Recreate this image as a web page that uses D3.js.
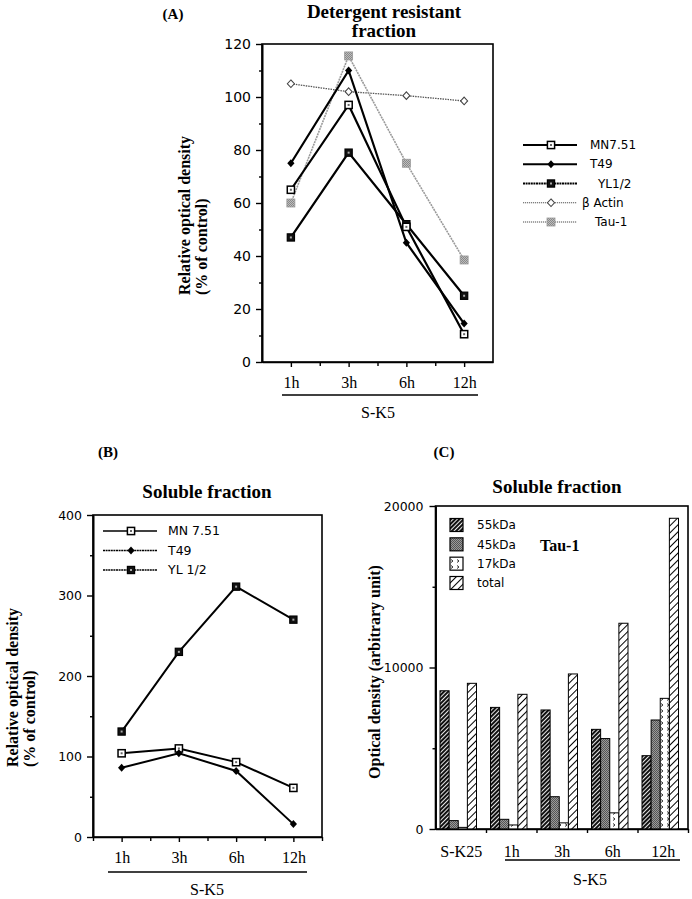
<!DOCTYPE html>
<html><head><meta charset="utf-8">
<script src="https://cdn.jsdelivr.net/npm/d3@7"></script>
<style>body{margin:0;background:#fff} svg{display:block}</style>
</head><body><svg id="c" width="692" height="899"></svg>
<script>
// ---------------- DATA ----------------
const timeCats = ["1h", "3h", "6h", "12h"];
// Panel A : Detergent resistant fraction
const aMN751 = [65, 97, 51, 10.5];
const aT49 = [75, 110, 45, 14.5];
const aYL12 = [47, 79, 52, 25];
const aActin = [105, 102, 100.5, 98.5];
const aTau1 = [60, 115.5, 75, 38.5];
const aTicks = [0, 20, 40, 60, 80, 100, 120];
const aMinorTicks = [10, 30, 50, 70, 90, 110];
const aLegend = ["MN7.51", "T49", "YL1/2", "\u03B2 Actin", "Tau-1"];
// Panel B : Soluble fraction
const bMN751 = [104, 110, 93, 61];
const bT49 = [86, 104, 82, 16];
const bYL12 = [131, 230, 311, 270];
const bTicks = [0, 100, 200, 300, 400];
const bMinorTicks = [50, 150, 250, 350];
const bLegend = ["MN 7.51", "T49", "YL 1/2"];
// Panel C : Soluble fraction, Tau-1
const cGroups = ["S-K25", "1h", "3h", "6h", "12h"];
const cKeys = ["55kDa", "45kDa", "17kDa", "total"];
const c55 = [8560, 7530, 7370, 6170, 4540];
const c45 = [520, 600, 2000, 5600, 6750];
const c17 = [100, 250, 380, 1000, 8090];
const cTotal = [9020, 8340, 9600, 12740, 19240];
const cTicks = [0, 10000, 20000];
const cMinorTicks = [5000, 15000];

// ---------------- SETUP ----------------
const SERIF = "'Liberation Serif', 'Times New Roman', serif";
const SANS = "'DejaVu Sans', Verdana, sans-serif";
const svg = d3.select("#c");
const defs = svg.append("defs");

function hatch(id, size, bg, fg, sw) {
  const p = defs.append("pattern").attr("id", id).attr("width", size).attr("height", size)
    .attr("patternUnits", "userSpaceOnUse").attr("patternTransform", "rotate(45)");
  p.append("rect").attr("width", size).attr("height", size).attr("fill", bg);
  p.append("line").attr("x1", 0.5).attr("y1", 0).attr("x2", 0.5).attr("y2", size)
    .attr("stroke", fg).attr("stroke-width", sw);
}
hatch("p55", 3, "#111", "#fff", 0.9);
hatch("ptot", 5, "#fff", "#000", 1);
{
  const p = defs.append("pattern").attr("id", "p45").attr("width", 2).attr("height", 2)
    .attr("patternUnits", "userSpaceOnUse");
  p.append("rect").attr("width", 2).attr("height", 2).attr("fill", "#9a9a9a");
  p.append("rect").attr("width", 1).attr("height", 1).attr("fill", "#555");
  p.append("rect").attr("x", 1).attr("y", 1).attr("width", 1).attr("height", 1).attr("fill", "#555");
  const q = defs.append("pattern").attr("id", "p17").attr("width", 6).attr("height", 6)
    .attr("patternUnits", "userSpaceOnUse");
  q.append("rect").attr("width", 6).attr("height", 6).attr("fill", "#fff");
  q.append("path").attr("d", "M1,1.5 L3,3 L1,4.5").attr("fill", "none").attr("stroke", "#000").attr("stroke-width", 0.8);
  const g = defs.append("pattern").attr("id", "pgray").attr("width", 2).attr("height", 2)
    .attr("patternUnits", "userSpaceOnUse");
  g.append("rect").attr("width", 2).attr("height", 2).attr("fill", "#bdbdbd");
  g.append("rect").attr("width", 1).attr("height", 1).attr("fill", "#888");
  g.append("rect").attr("x", 1).attr("y", 1).attr("width", 1).attr("height", 1).attr("fill", "#888");
}

function styleAxis(g, size, family) {
  g.select(".domain").attr("stroke", "#000").attr("stroke-width", 1.6);
  g.selectAll(".tick line").attr("stroke", "#000").attr("stroke-width", 1.4);
  g.selectAll("text").attr("font-size", size).attr("font-family", family).attr("fill", "#000");
}

function marker(g, type, x, y) {
  const s = 3.6;
  if (type === "sqOpen") {
    g.append("rect").attr("x", x - s).attr("y", y - s).attr("width", 2 * s).attr("height", 2 * s)
      .attr("fill", "#fff").attr("stroke", "#000").attr("stroke-width", 1.5);
    g.append("rect").attr("x", x - 1).attr("y", y - 1).attr("width", 2).attr("height", 2).attr("fill", "#666");
  } else if (type === "sqFill") {
    g.append("rect").attr("x", x - s).attr("y", y - s).attr("width", 2 * s).attr("height", 2 * s)
      .attr("fill", "#111").attr("stroke", "#000").attr("stroke-width", 1.2);
    g.append("rect").attr("x", x - 1).attr("y", y - 1).attr("width", 2).attr("height", 2).attr("fill", "#aaa");
  } else if (type === "diamond") {
    g.append("path").attr("d", `M${x},${y - 4}L${x + 3.6},${y}L${x},${y + 4}L${x - 3.6},${y}Z`).attr("fill", "#000");
  } else if (type === "diamondOpen") {
    g.append("path").attr("d", `M${x},${y - 3.8}L${x + 3.5},${y}L${x},${y + 3.8}L${x - 3.5},${y}Z`)
      .attr("fill", "#fff").attr("stroke", "#444").attr("stroke-width", 1.1);
  } else if (type === "sqGray") {
    g.append("rect").attr("x", x - 4).attr("y", y - 4).attr("width", 8).attr("height", 8)
      .attr("fill", "url(#pgray)").attr("stroke", "#999").attr("stroke-width", 0.8);
  }
}

function serifText(x, y, txt, size, weight, anchor) {
  return svg.append("text").attr("x", x).attr("y", y).attr("font-family", SERIF)
    .attr("font-size", size).attr("font-weight", weight || "normal")
    .attr("text-anchor", anchor || "middle").attr("fill", "#000").text(txt);
}

// ---------------- PANEL A ----------------
{
  const A = { l: 262, r: 493, t: 44, b: 362 };
  const y = d3.scaleLinear().domain([0, 120]).range([A.b, A.t]);
  const x = d3.scalePoint().domain(timeCats).range([A.l, A.r]).padding(0.5);
  const xb = d3.scaleBand().domain(timeCats).range([A.l, A.r]);

  serifText(173, 19, "(A)", 15, "bold");
  serifText(384, 18, "Detergent resistant", 19, "bold");
  serifText(384, 37, "fraction", 19, "bold");

  svg.append("rect").attr("x", A.l).attr("y", A.t).attr("width", A.r - A.l).attr("height", A.b - A.t)
    .attr("fill", "none").attr("stroke", "#000").attr("stroke-width", 1.6);

  svg.append("g").attr("transform", `translate(${A.l},0)`)
    .call(d3.axisLeft(y).tickValues(aTicks).tickSize(6).tickSizeOuter(0).tickPadding(5))
    .call(styleAxis, 14, SANS);
  svg.append("g").attr("transform", `translate(${A.l},0)`)
    .call(d3.axisLeft(y).tickValues(aMinorTicks).tickSize(3).tickSizeOuter(0).tickFormat(""))
    .call(styleAxis, 14, SANS);
  svg.append("g").attr("transform", `translate(0,${A.b})`)
    .call(d3.axisBottom(x).tickSize(5).tickSizeOuter(0).tickPadding(10))
    .call(styleAxis, 16, SERIF);
  svg.append("g").attr("transform", `translate(0,${A.b})`)
    .call(d3.axisBottom(d3.scaleIdentity()).tickValues(timeCats.slice(1).map(c => xb(c))).tickSize(4).tickFormat(""))
    .call(g => g.select(".domain").remove())
    .call(styleAxis, 14, SANS);

  svg.append("line").attr("x1", 282).attr("x2", 478).attr("y1", 395).attr("y2", 395)
    .attr("stroke", "#000").attr("stroke-width", 1.5);
  serifText(378, 418, "S-K5", 16);

  // y-axis title
  [["Relative optical density", 190], ["(% of control)", 207]].forEach(([t, cx]) => {
    svg.append("text").attr("transform", `translate(${cx},295) rotate(-90)`)
      .attr("font-family", SERIF).attr("font-size", 16).attr("font-weight", "bold")
      .attr("text-anchor", "start").text(t);
  });

  const line = d3.line().x((d, i) => x(timeCats[i])).y(d => y(d));
  const series = [
    { v: aActin, stroke: "#555", w: 1.3, dash: "1.5,1", m: "diamondOpen" },
    { v: aTau1, stroke: "#9a9a9a", w: 1.6, dash: "2,0.8", m: "sqGray" },
    { v: aYL12, stroke: "#000", w: 2.2, dash: null, m: "sqFill" },
    { v: aMN751, stroke: "#000", w: 2.2, dash: null, m: "sqOpen" },
    { v: aT49, stroke: "#000", w: 2.2, dash: null, m: "diamond" },
  ];
  series.forEach(s => {
    svg.append("path").datum(s.v).attr("d", line).attr("fill", "none")
      .attr("stroke", s.stroke).attr("stroke-width", s.w).attr("stroke-dasharray", s.dash);
  });
  series.forEach(s => {
    const g = svg.append("g");
    s.v.forEach((d, i) => marker(g, s.m, x(timeCats[i]), y(d)));
  });

  // legend
  const legStyle = [
    { stroke: "#000", w: 1.8, dash: null, m: "sqOpen", tx: 590 },
    { stroke: "#000", w: 1.8, dash: null, m: "diamond", tx: 590 },
    { stroke: "#000", w: 1.8, dash: "2,0.6", m: "sqFill", tx: 598 },
    { stroke: "#555", w: 1.2, dash: "1.2,0.8", m: "diamondOpen", tx: 582 },
    { stroke: "#888", w: 1.3, dash: "1.2,0.8", m: "sqGray", tx: 595 },
  ];
  const ly = d3.scalePoint().domain(aLegend).range([145, 222]);
  aLegend.forEach((name, i) => {
    const st = legStyle[i], yy = ly(name);
    svg.append("line").attr("x1", 523).attr("x2", 577).attr("y1", yy).attr("y2", yy)
      .attr("stroke", st.stroke).attr("stroke-width", st.w).attr("stroke-dasharray", st.dash);
    marker(svg.append("g"), st.m, 551, yy);
    svg.append("text").attr("x", st.tx).attr("y", yy).attr("dy", "0.35em")
      .attr("font-family", SANS).attr("font-size", 12).text(name);
  });
}

// ---------------- PANEL B ----------------
{
  const B = { l: 93, r: 322, t: 515, b: 837 };
  const y = d3.scaleLinear().domain([0, 400]).range([B.b, B.t]);
  const x = d3.scalePoint().domain(timeCats).range([B.l, B.r]).padding(0.5);
  const xb = d3.scaleBand().domain(timeCats).range([B.l, B.r]);

  serifText(108, 457, "(B)", 15, "bold");
  serifText(207, 498, "Soluble fraction", 19, "bold");

  svg.append("rect").attr("x", B.l).attr("y", B.t).attr("width", B.r - B.l).attr("height", B.b - B.t)
    .attr("fill", "none").attr("stroke", "#000").attr("stroke-width", 1.6);
  svg.append("g").attr("transform", `translate(${B.l},0)`)
    .call(d3.axisLeft(y).tickValues(bTicks).tickSize(6).tickSizeOuter(0).tickPadding(5))
    .call(styleAxis, 12.5, SANS);
  svg.append("g").attr("transform", `translate(${B.l},0)`)
    .call(d3.axisLeft(y).tickValues(bMinorTicks).tickSize(3).tickSizeOuter(0).tickFormat(""))
    .call(styleAxis, 12, SANS);
  svg.append("g").attr("transform", `translate(0,${B.b})`)
    .call(d3.axisBottom(x).tickSize(5).tickSizeOuter(0).tickPadding(10))
    .call(styleAxis, 16, SERIF);
  svg.append("g").attr("transform", `translate(0,${B.b})`)
    .call(d3.axisBottom(d3.scaleIdentity()).tickValues(timeCats.map(c => xb(c)).concat([B.r])).tickSize(4).tickFormat(""))
    .call(g => g.select(".domain").remove())
    .call(styleAxis, 12, SANS);

  svg.append("line").attr("x1", 108).attr("x2", 307).attr("y1", 872).attr("y2", 872)
    .attr("stroke", "#000").attr("stroke-width", 1.5);
  serifText(207, 895, "S-K5", 16);

  [["Relative optical density", 18], ["(% of control)", 35]].forEach(([t, cx]) => {
    svg.append("text").attr("transform", `translate(${cx},767) rotate(-90)`)
      .attr("font-family", SERIF).attr("font-size", 16).attr("font-weight", "bold")
      .attr("text-anchor", "start").text(t);
  });

  const line = d3.line().x((d, i) => x(timeCats[i])).y(d => y(d));
  const series = [
    { v: bYL12, m: "sqFill" },
    { v: bMN751, m: "sqOpen" },
    { v: bT49, m: "diamond" },
  ];
  series.forEach(s => {
    svg.append("path").datum(s.v).attr("d", line).attr("fill", "none")
      .attr("stroke", "#000").attr("stroke-width", 2);
  });
  series.forEach(s => {
    const g = svg.append("g");
    s.v.forEach((d, i) => marker(g, s.m, x(timeCats[i]), y(d)));
  });

  const legM = ["sqOpen", "diamond", "sqFill"];
  const legDash = [null, "2,0.6", "2,0.6"];
  const ly = d3.scalePoint().domain(bLegend).range([531, 570]);
  bLegend.forEach((name, i) => {
    const yy = ly(name);
    svg.append("line").attr("x1", 103).attr("x2", 157).attr("y1", yy).attr("y2", yy)
      .attr("stroke", "#000").attr("stroke-width", 1.6).attr("stroke-dasharray", legDash[i]);
    marker(svg.append("g"), legM[i], 131, yy);
    svg.append("text").attr("x", 168).attr("y", yy).attr("dy", "0.35em")
      .attr("font-family", SANS).attr("font-size", 12.5).text(name);
  });
}

// ---------------- PANEL C ----------------
{
  const C = { l: 435.5, r: 688, t: 506, b: 829 };
  const y = d3.scaleLinear().domain([0, 20000]).range([C.b, C.t]);
  const x0 = d3.scaleBand().domain(cGroups).range([C.l, C.r]);
  const x1 = d3.scaleBand().domain(cKeys).range([4.5, 41]);
  const fills = { "55kDa": "url(#p55)", "45kDa": "url(#p45)", "17kDa": "url(#p17)", "total": "url(#ptot)" };
  const vals = { "55kDa": c55, "45kDa": c45, "17kDa": c17, "total": cTotal };

  serifText(444, 457, "(C)", 15, "bold");
  serifText(557, 493, "Soluble fraction", 19, "bold");

  svg.append("rect").attr("x", C.l).attr("y", C.t).attr("width", C.r - C.l).attr("height", C.b - C.t)
    .attr("fill", "none").attr("stroke", "#000").attr("stroke-width", 1.6);

  cGroups.forEach((gname, gi) => {
    cKeys.forEach(k => {
      const v = vals[k][gi];
      svg.append("rect").attr("x", x0(gname) + x1(k)).attr("y", y(v))
        .attr("width", x1.bandwidth()).attr("height", C.b - y(v))
        .attr("fill", fills[k]).attr("stroke", "#000").attr("stroke-width", 1);
    });
  });

  svg.append("g").attr("transform", `translate(${C.l},0)`)
    .call(d3.axisLeft(y).tickValues(cTicks).tickFormat(d3.format("d")).tickSize(6).tickSizeOuter(0).tickPadding(6))
    .call(styleAxis, 12.5, SANS);
  svg.append("g").attr("transform", `translate(${C.l},0)`)
    .call(d3.axisLeft(y).tickValues(cMinorTicks).tickSize(3).tickSizeOuter(0).tickFormat(""))
    .call(styleAxis, 12, SANS);
  const xc = d3.scalePoint().domain(cGroups).range([C.l, C.r]).padding(0.5);
  svg.append("g").attr("transform", `translate(0,${C.b})`)
    .call(d3.axisBottom(xc).tickSize(0).tickSizeOuter(0).tickPadding(17))
    .call(styleAxis, 16, SERIF);
  svg.append("g").attr("transform", `translate(0,${C.b})`)
    .call(d3.axisBottom(d3.scaleIdentity()).tickValues(cGroups.slice(1).map(g => x0(g)).concat([C.r])).tickSize(4).tickFormat(""))
    .call(g => g.select(".domain").remove())
    .call(styleAxis, 12, SANS);

  svg.append("line").attr("x1", 505).attr("x2", 680).attr("y1", 860).attr("y2", 860)
    .attr("stroke", "#000").attr("stroke-width", 1.5);
  serifText(590, 885, "S-K5", 16);

  svg.append("text").attr("transform", `translate(380,672) rotate(-90)`)
    .attr("font-family", SERIF).attr("font-size", 16).attr("font-weight", "bold")
    .attr("text-anchor", "middle").text("Optical density (arbitrary unit)");

  const ly = d3.scalePoint().domain(cKeys).range([525, 583]);
  cKeys.forEach(k => {
    const yy = ly(k);
    svg.append("rect").attr("x", 450).attr("y", yy - 6.5).attr("width", 13).attr("height", 13)
      .attr("fill", fills[k]).attr("stroke", "#000").attr("stroke-width", 1.2);
    svg.append("text").attr("x", 477).attr("y", yy).attr("dy", "0.35em")
      .attr("font-family", SANS).attr("font-size", 12).text(k);
  });
  serifText(540, 551, "Tau-1", 16, "bold", "start");
}
</script>
</body></html>
